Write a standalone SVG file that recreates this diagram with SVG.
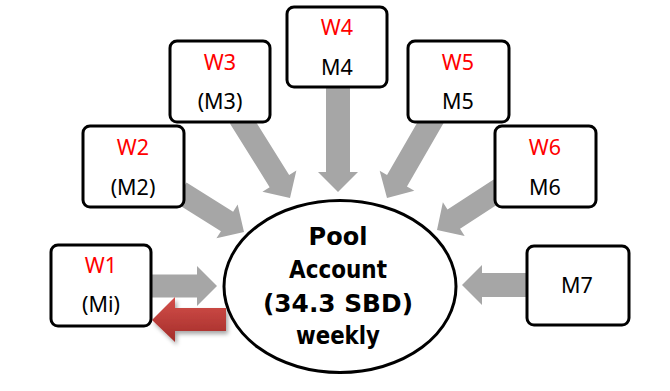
<svg xmlns="http://www.w3.org/2000/svg" width="670" height="391" viewBox="0 0 670 391">
  <defs>
    <style>
      .box { fill: #ffffff; stroke: #000000; stroke-width: 3; }
      .arrow { fill: #a6a6a6; }
      .w { font-family: "Noto Sans", "Liberation Sans", sans-serif; font-size: 21.5px; fill: #ff0000; text-anchor: middle; }
      .m { font-family: "Noto Sans", "Liberation Sans", sans-serif; font-size: 21.5px; fill: #000000; text-anchor: middle; }
      .pool { font-family: "DejaVu Sans", "Liberation Sans", sans-serif; font-size: 24px; font-weight: bold; fill: #000000; text-anchor: middle; }
    </style>
    <linearGradient id="redGrad" gradientUnits="userSpaceOnUse" x1="0" y1="297" x2="0" y2="342">
      <stop offset="0" stop-color="#d4504b"/>
      <stop offset="1" stop-color="#a32c29"/>
    </linearGradient>
    <filter id="shadow" x="-20%" y="-30%" width="150%" height="170%">
      <feDropShadow dx="2" dy="3" stdDeviation="2" flood-color="#000000" flood-opacity="0.35"/>
    </filter>
  </defs>

  <g id="connectors">
    <path class="arrow" transform="translate(217,286)" d="M0,0 L-20,-20 L-20,-11.5 L-72,-11.5 L-72,11.5 L-20,11.5 L-20,20 Z"/>
    <path class="arrow" transform="translate(244,232) rotate(32)" d="M0,0 L-20,-20 L-20,-11.5 L-75,-11.5 L-75,11.5 L-20,11.5 L-20,20 Z"/>
    <path class="arrow" transform="translate(290,198) rotate(58)" d="M0,0 L-20,-20 L-20,-11.5 L-95,-11.5 L-95,11.5 L-20,11.5 L-20,20 Z"/>
    <path class="arrow" transform="translate(338,192) rotate(90)" d="M0,0 L-20,-20 L-20,-12 L-108,-12 L-108,12 L-20,12 L-20,20 Z"/>
    <path class="arrow" transform="translate(387,198) rotate(120)" d="M0,0 L-20,-20 L-20,-11.5 L-95,-11.5 L-95,11.5 L-20,11.5 L-20,20 Z"/>
    <path class="arrow" transform="translate(437,230) rotate(147)" d="M0,0 L-20,-20 L-20,-11.5 L-75,-11.5 L-75,11.5 L-20,11.5 L-20,20 Z"/>
    <path class="arrow" transform="translate(462,285) rotate(180)" d="M0,0 L-20,-20 L-20,-12 L-70,-12 L-70,12 L-20,12 L-20,20 Z"/>
    <polygon fill="url(#redGrad)" filter="url(#shadow)" points="152,320 175,297 175,308 226,308 226,331 175,331 175,342"/>
  </g>

  <g id="pool">
    <ellipse cx="340" cy="286.5" rx="116" ry="86" fill="#ffffff" stroke="#000000" stroke-width="3"/>
    <text class="pool" x="338" y="245">Pool</text>
    <text class="pool" x="338" y="278" textLength="98" lengthAdjust="spacingAndGlyphs">Account</text>
    <text class="pool" x="338" y="312" textLength="150" lengthAdjust="spacingAndGlyphs">(34.3 SBD)</text>
    <text class="pool" x="338" y="344" textLength="84" lengthAdjust="spacingAndGlyphs">weekly</text>
  </g>

  <g id="w1">
    <rect class="box" x="51" y="245" width="100" height="81" rx="7"/>
    <text class="w" x="101" y="273">W1</text>
    <text class="m" x="101" y="312">(Mi)</text>
  </g>
  <g id="w2">
    <rect class="box" x="83" y="126" width="101" height="81" rx="7"/>
    <text class="w" x="133" y="155">W2</text>
    <text class="m" x="133" y="195">(M2)</text>
  </g>
  <g id="w3">
    <rect class="box" x="170" y="41" width="100" height="81" rx="7"/>
    <text class="w" x="220" y="70">W3</text>
    <text class="m" x="220" y="109">(M3)</text>
  </g>
  <g id="w4">
    <rect class="box" x="287" y="7" width="100" height="80" rx="7"/>
    <text class="w" x="337" y="35">W4</text>
    <text class="m" x="337" y="75">M4</text>
  </g>
  <g id="w5">
    <rect class="box" x="408" y="41" width="101" height="81" rx="7"/>
    <text class="w" x="458" y="70">W5</text>
    <text class="m" x="458" y="109">M5</text>
  </g>
  <g id="w6">
    <rect class="box" x="495" y="126" width="101" height="81" rx="7"/>
    <text class="w" x="545" y="155">W6</text>
    <text class="m" x="545" y="195">M6</text>
  </g>
  <g id="m7">
    <rect class="box" x="527" y="246" width="102" height="79" rx="7"/>
    <text class="m" x="577" y="293">M7</text>
  </g>
</svg>
